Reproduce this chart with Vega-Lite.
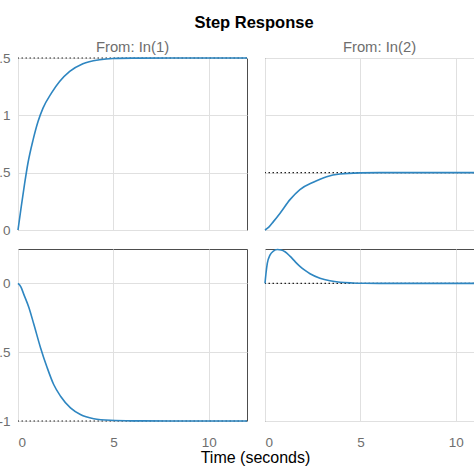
{
  "$schema": "https://vega.github.io/schema/vega-lite/v6.json",
  "autosize": {"type": "pad"},
  "padding": {"left": -14, "right": -20, "top": 15, "bottom": 8},
  "background": "white",
  "title": {"text": "Step Response", "font": "Liberation Sans", "fontSize": 16.5, "fontWeight": "bold", "color": "#000000", "anchor": "middle", "dx": 12, "offset": 8},
  "datasets": {
    "steps": [
      {"panel": "TL", "t": 0, "y": 0},
      {"panel": "TL", "t": 0.17, "y": 0.204},
      {"panel": "TL", "t": 0.35, "y": 0.408},
      {"panel": "TL", "t": 0.52, "y": 0.582},
      {"panel": "TL", "t": 0.79, "y": 0.786},
      {"panel": "TL", "t": 1.05, "y": 0.946},
      {"panel": "TL", "t": 1.31, "y": 1.063},
      {"panel": "TL", "t": 1.75, "y": 1.194},
      {"panel": "TL", "t": 2.18, "y": 1.295},
      {"panel": "TL", "t": 2.71, "y": 1.383},
      {"panel": "TL", "t": 3.4, "y": 1.45},
      {"panel": "TL", "t": 4.28, "y": 1.485},
      {"panel": "TL", "t": 4.97, "y": 1.496},
      {"panel": "TL", "t": 6, "y": 1.499},
      {"panel": "TL", "t": 8, "y": 1.5},
      {"panel": "TL", "t": 12, "y": 1.5},
      {"panel": "TR", "t": 0, "y": 0},
      {"panel": "TR", "t": 0.2, "y": 0.025},
      {"panel": "TR", "t": 0.44, "y": 0.073},
      {"panel": "TR", "t": 0.79, "y": 0.147},
      {"panel": "TR", "t": 1.31, "y": 0.265},
      {"panel": "TR", "t": 1.83, "y": 0.353},
      {"panel": "TR", "t": 2.53, "y": 0.417},
      {"panel": "TR", "t": 3.23, "y": 0.465},
      {"panel": "TR", "t": 3.93, "y": 0.488},
      {"panel": "TR", "t": 4.97, "y": 0.498},
      {"panel": "TR", "t": 6, "y": 0.5},
      {"panel": "TR", "t": 12, "y": 0.5},
      {"panel": "BL", "t": 0, "y": 0},
      {"panel": "BL", "t": 0.15, "y": -0.025},
      {"panel": "BL", "t": 0.3, "y": -0.078},
      {"panel": "BL", "t": 0.57, "y": -0.175},
      {"panel": "BL", "t": 0.83, "y": -0.297},
      {"panel": "BL", "t": 1.18, "y": -0.467},
      {"panel": "BL", "t": 1.53, "y": -0.613},
      {"panel": "BL", "t": 1.87, "y": -0.735},
      {"panel": "BL", "t": 2.23, "y": -0.82},
      {"panel": "BL", "t": 2.75, "y": -0.905},
      {"panel": "BL", "t": 3.27, "y": -0.953},
      {"panel": "BL", "t": 3.97, "y": -0.983},
      {"panel": "BL", "t": 4.84, "y": -0.995},
      {"panel": "BL", "t": 6, "y": -0.999},
      {"panel": "BL", "t": 8, "y": -1},
      {"panel": "BL", "t": 12, "y": -1},
      {"panel": "BR", "t": 0, "y": 0},
      {"panel": "BR", "t": 0.05, "y": 0.07},
      {"panel": "BR", "t": 0.12, "y": 0.145},
      {"panel": "BR", "t": 0.26, "y": 0.205},
      {"panel": "BR", "t": 0.44, "y": 0.235},
      {"panel": "BR", "t": 0.65, "y": 0.246},
      {"panel": "BR", "t": 0.85, "y": 0.243},
      {"panel": "BR", "t": 1.05, "y": 0.23},
      {"panel": "BR", "t": 1.31, "y": 0.198},
      {"panel": "BR", "t": 1.6, "y": 0.155},
      {"panel": "BR", "t": 1.83, "y": 0.124},
      {"panel": "BR", "t": 2.1, "y": 0.094},
      {"panel": "BR", "t": 2.36, "y": 0.07},
      {"panel": "BR", "t": 2.88, "y": 0.038},
      {"panel": "BR", "t": 3.4, "y": 0.019},
      {"panel": "BR", "t": 3.93, "y": 0.008},
      {"panel": "BR", "t": 4.6, "y": 0.003},
      {"panel": "BR", "t": 5.2, "y": 0.001},
      {"panel": "BR", "t": 6, "y": 0},
      {"panel": "BR", "t": 12, "y": 0}
    ],
    "finals": [
      {"panel": "TL", "y": 1.5},
      {"panel": "TR", "y": 0.5},
      {"panel": "BL", "y": -1},
      {"panel": "BR", "y": 0}
    ]
  },
  "columns": 2,
  "spacing": {"row": 19, "column": 18},
  "bounds": "flush",
  "concat": [
    {
      "width": 229,
      "height": 172,
      "title": {"text": "From: In(1)", "fontSize": 14.8, "fontWeight": "normal", "color": "#6e6e6e", "offset": -4},
      "layer": [
        {
          "data": {"name": "finals"},
          "transform": [{"filter": "datum.panel == 'TL'"}],
          "mark": {"type": "rule", "color": "#222222", "strokeWidth": 1.2, "strokeDash": [1.5, 2.5]},
          "encoding": {"y": {"field": "y", "type": "quantitative", "scale": {"domain": [0, 1.5], "nice": false}}}
        },
        {
          "data": {"name": "steps"},
          "transform": [{"filter": "datum.panel == 'TL'"}],
          "mark": {"type": "line", "color": "#2e86c1", "strokeWidth": 1.6, "interpolate": "monotone"},
          "encoding": {
            "x": {"field": "t", "type": "quantitative", "scale": {"domain": [0, 12], "nice": false}, "axis": {"values": [0, 5, 10], "labels": false}},
            "y": {"field": "y", "type": "quantitative", "scale": {"domain": [0, 1.5], "nice": false}, "axis": {"values": [0, 0.5, 1, 1.5], "format": "~g"}}
          }
        }
      ]
    },
    {
      "width": 229,
      "height": 172,
      "title": {"text": "From: In(2)", "fontSize": 14.8, "fontWeight": "normal", "color": "#6e6e6e", "offset": 3},
      "layer": [
        {
          "data": {"name": "finals"},
          "transform": [{"filter": "datum.panel == 'TR'"}],
          "mark": {"type": "rule", "color": "#222222", "strokeWidth": 1.2, "strokeDash": [1.5, 2.5]},
          "encoding": {"y": {"field": "y", "type": "quantitative", "scale": {"domain": [0, 1.5], "nice": false}}}
        },
        {
          "data": {"name": "steps"},
          "transform": [{"filter": "datum.panel == 'TR'"}],
          "mark": {"type": "line", "color": "#2e86c1", "strokeWidth": 1.6, "interpolate": "monotone"},
          "encoding": {
            "x": {"field": "t", "type": "quantitative", "scale": {"domain": [0, 12], "nice": false}, "axis": {"values": [0, 5, 10], "labels": false}},
            "y": {"field": "y", "type": "quantitative", "scale": {"domain": [0, 1.5], "nice": false}, "axis": {"values": [0, 0.5, 1, 1.5], "labels": false}}
          }
        }
      ]
    },
    {
      "width": 229,
      "height": 172,
      "layer": [
        {
          "data": {"name": "finals"},
          "transform": [{"filter": "datum.panel == 'BL'"}],
          "mark": {"type": "rule", "color": "#222222", "strokeWidth": 1.2, "strokeDash": [1.5, 2.5]},
          "encoding": {"y": {"field": "y", "type": "quantitative", "scale": {"domain": [-1, 0.25], "nice": false}}}
        },
        {
          "data": {"name": "steps"},
          "transform": [{"filter": "datum.panel == 'BL'"}],
          "mark": {"type": "line", "color": "#2e86c1", "strokeWidth": 1.6, "interpolate": "monotone"},
          "encoding": {
            "x": {
              "field": "t", "type": "quantitative", "scale": {"domain": [0, 12], "nice": false},
              "axis": {"values": [0, 5, 10], "title": "Time (seconds)", "titleFontSize": 16, "titleFontWeight": "normal", "titleColor": "#000000", "titleX": 237, "titleAlign": "center", "titlePadding": 1}
            },
            "y": {
              "field": "y", "type": "quantitative", "scale": {"domain": [-1, 0.25], "nice": false},
              "axis": {"values": [-1, -0.5, 0], "format": "~g", "labelExpr": "replace(datum.label, '\u2212', '-')"}
            }
          }
        }
      ]
    },
    {
      "width": 229,
      "height": 172,
      "layer": [
        {
          "data": {"name": "finals"},
          "transform": [{"filter": "datum.panel == 'BR'"}],
          "mark": {"type": "rule", "color": "#222222", "strokeWidth": 1.2, "strokeDash": [1.5, 2.5]},
          "encoding": {"y": {"field": "y", "type": "quantitative", "scale": {"domain": [-1, 0.25], "nice": false}}}
        },
        {
          "data": {"name": "steps"},
          "transform": [{"filter": "datum.panel == 'BR'"}],
          "mark": {"type": "line", "color": "#2e86c1", "strokeWidth": 1.6, "interpolate": "monotone"},
          "encoding": {
            "x": {"field": "t", "type": "quantitative", "scale": {"domain": [0, 12], "nice": false}, "axis": {"values": [0, 5, 10]}},
            "y": {"field": "y", "type": "quantitative", "scale": {"domain": [-1, 0.25], "nice": false}, "axis": {"values": [-1, -0.5, 0], "labels": false}}
          }
        }
      ]
    }
  ],
  "config": {
    "font": "Liberation Sans",
    "view": {"stroke": "#4d4d4d", "strokeWidth": 1},
    "axis": {
      "domain": false,
      "ticks": false,
      "grid": true,
      "gridColor": "#e0e0e0",
      "gridWidth": 1,
      "labelFont": "Liberation Sans",
      "labelFontSize": 13.5,
      "labelColor": "#6e6e6e",
      "labelPadding": 8,
      "title": null
    },
    "axisX": {"labelPadding": 14}
  }
}
